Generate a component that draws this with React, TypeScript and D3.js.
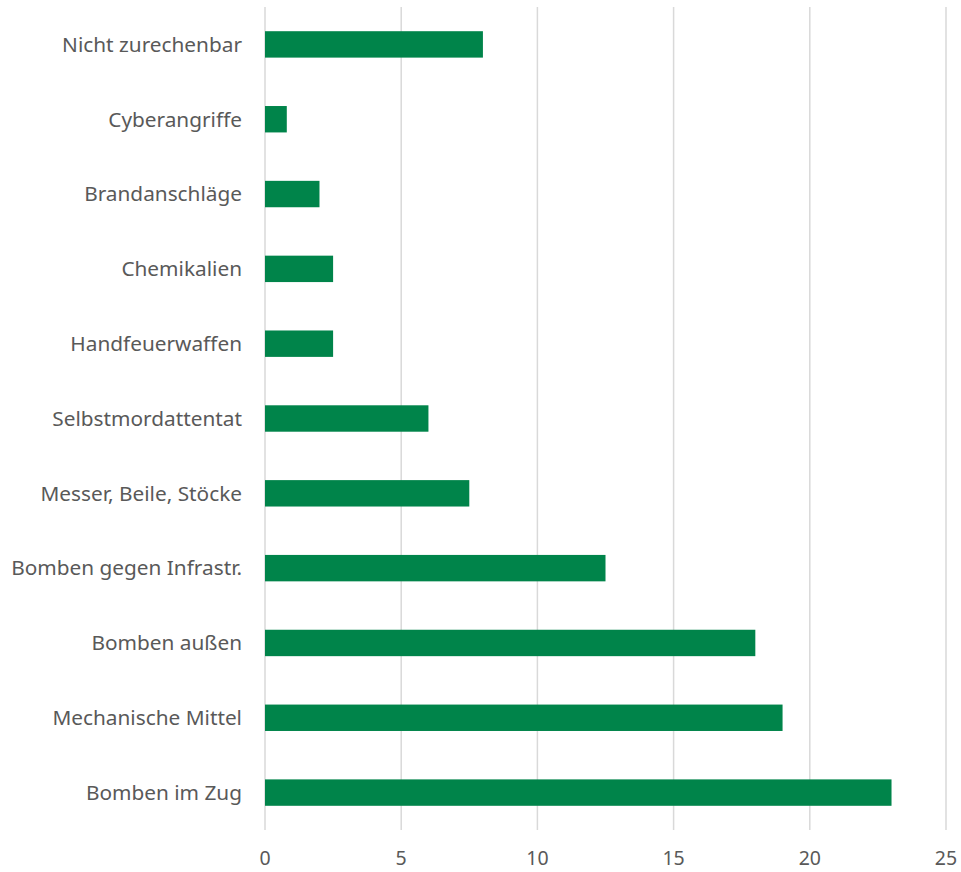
import React from "react";
import * as d3 from "d3";

const categories = [
  "Nicht zurechenbar",
  "Cyberangriffe",
  "Brandanschläge",
  "Chemikalien",
  "Handfeuerwaffen",
  "Selbstmordattentat",
  "Messer, Beile, Stöcke",
  "Bomben gegen Infrastr.",
  "Bomben außen",
  "Mechanische Mittel",
  "Bomben im Zug",
];
const values = [8, 0.8, 2, 2.5, 2.5, 6, 7.5, 12.5, 18, 19, 23];
const xTicks = [0, 5, 10, 15, 20, 25];

const W = 961;
const H = 872;
const FONT = "'Noto Sans', 'Open Sans', sans-serif";

export default function App() {
  const x = d3.scaleLinear().domain([0, 25]).range([265, 946]);
  const y = d3
    .scaleBand<string>()
    .domain(categories)
    .range([7, 830])
    .paddingInner(0.647)
    .paddingOuter(0.3235);

  return (
    <svg
      width={W}
      height={H}
      style={{ position: "absolute", left: 0, top: 0, background: "#fff" }}
    >
      {xTicks.map((t) => (
        <g key={t}>
          <line
            x1={x(t)}
            x2={x(t)}
            y1={7}
            y2={830}
            stroke="#d9d9d9"
            strokeWidth={1.5}
          />
          <text
            x={x(t)}
            y={865}
            textAnchor="middle"
            fontFamily={FONT}
            fontSize={19.5}
            fill="#595959"
          >
            {t}
          </text>
        </g>
      ))}
      {categories.map((c, i) => (
        <g key={c}>
          <rect
            x={x(0)}
            y={y(c)!}
            width={x(values[i]) - x(0)}
            height={y.bandwidth()}
            fill="#00844a"
          />
          <text
            x={242}
            y={y(c)! + y.bandwidth() / 2}
            dy="0.35em"
            textAnchor="end"
            fontFamily={FONT}
            fontSize={20.8}
            fill="#595959"
          >
            {c}
          </text>
        </g>
      ))}
    </svg>
  );
}
